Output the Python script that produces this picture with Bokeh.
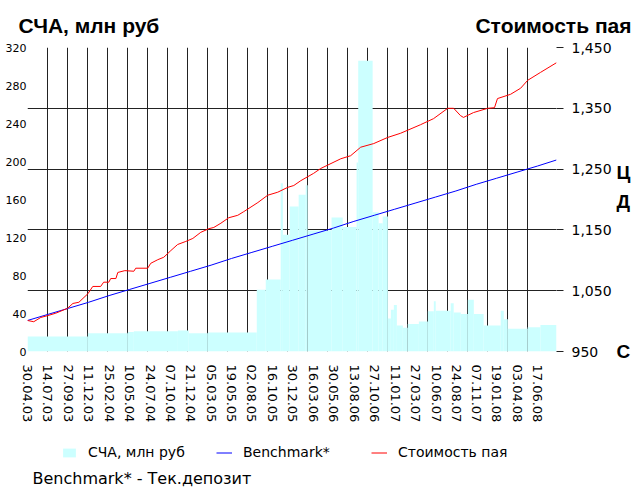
from datetime import date
from bokeh.plotting import figure
from bokeh.layouts import column, row
from bokeh.models import (Range1d, FixedTicker, NumeralTickFormatter, Label, LinearAxis,
                          Legend, LegendItem, ColumnDataSource)
from bokeh.embed import file_html
from bokeh.resources import INLINE

# ---------------- data ----------------
tick_labels = ["30.04.03", "14.07.03", "27.09.03", "11.12.03", "25.02.04", "10.05.04",
               "24.07.04", "07.10.04", "21.12.04", "05.03.05", "19.05.05", "02.08.05",
               "16.10.05", "30.12.05", "16.03.06", "30.05.06", "13.08.06", "27.10.06",
               "11.01.07", "27.03.07", "10.06.07", "24.08.07", "07.11.07", "19.01.08",
               "03.04.08", "17.06.08"]

# СЧА, млн руб (left axis): columns, start day (days since 30.04.03) and value
sca_start_day = [0, 222, 369, 391, 553, 593, 663, 843, 876, 931, 939, 964, 997, 1023,
                 1030, 1118, 1159, 1210, 1216, 1269, 1291, 1306, 1325, 1336, 1347, 1358,
                 1380, 1398, 1439, 1472, 1494, 1501, 1556, 1567, 1593, 1619, 1641, 1677,
                 1740, 1751, 1766, 1839, 1886]
sca_end_day = 1945
sca_mln = [15.8, 19.3, 20.4, 21.4, 22.0, 19.3, 20.0, 65.0, 75.8, 177.0, 123.0, 152.6,
           165.0, 175.0, 127.4, 141.0, 131.0, 199.0, 306.0, 146.6, 135.0, 142.0, 34.7,
           44.0, 49.0, 27.4, 25.0, 29.0, 31.6, 42.4, 53.0, 43.0, 50.8, 41.0, 39.6, 54.4,
           39.6, 27.4, 43.0, 34.0, 23.9, 25.6, 28.0]

# Benchmark* (right axis)
bench_day = [0, 75, 150, 225, 300, 375, 450, 525, 600, 675, 750, 825, 900, 975, 1050,
             1125, 1200, 1275, 1350, 1425, 1500, 1575, 1650, 1725, 1800, 1875, 1945]
bench_value = [1001, 1011, 1021, 1031, 1042, 1052, 1062, 1072, 1082, 1092, 1103, 1113,
               1123, 1133, 1143, 1153, 1164, 1174, 1184, 1194, 1204, 1214, 1225, 1235,
               1245, 1255, 1265]

# Стоимость пая (right axis)
nav_day = [0, 23, 49, 74, 104, 147, 167, 189, 222, 240, 269, 280, 299, 306, 325, 332,
           358, 391, 398, 442, 453, 479, 501, 527, 552, 582, 608, 637, 667, 685, 711,
           740, 773, 795, 847, 883, 920, 957, 979, 1005, 1052, 1078, 1152, 1188, 1225,
           1273, 1324, 1372, 1445, 1493, 1545, 1567, 1592, 1603, 1640, 1692, 1717, 1728,
           1776, 1813, 1839, 1886, 1945]
nav_value = [1001, 999, 1006, 1009, 1013, 1021, 1029, 1031, 1045, 1057, 1057, 1064, 1064,
             1070, 1070, 1080, 1083, 1082, 1087, 1087, 1095, 1101, 1105, 1116, 1126, 1131,
             1136, 1146, 1152, 1154, 1161, 1170, 1174, 1180, 1195, 1207, 1212, 1220, 1223,
             1231, 1243, 1251, 1267, 1272, 1286, 1292, 1302, 1309, 1323, 1333, 1350, 1350,
             1338, 1335, 1343, 1350, 1351, 1366, 1373, 1383, 1396, 1409, 1425]

left_ticks = [0, 40, 80, 120, 160, 200, 240, 280, 320]
right_ticks = [950, 1050, 1150, 1250, 1350, 1450]

title_left = "СЧА, млн руб"
title_right = "Стоимость пая"
series_names = ["СЧА, млн руб", "Benchmark*", "Стоимость пая"]
note_text = "Benchmark* - Тек.депозит"
edge_letters = ["Ц", "Д", "С"]
edge_letter_pos = [1244, 1197, 950]      # right-axis heights of the cut-off side texts

# ---------------- layout ----------------
PAGE_W, PAGE_H = 639, 493
HEAD_H = 39                     # header strip with the two titles
MAIN_H = 398                    # main chart
FOOT_H = PAGE_H - HEAD_H - MAIN_H
FL, FR, FT, FB = 27, 83, 8, 86  # frame 529 x 304


def blank(w, h, xr, yr):
    f = figure(width=w, height=h, output_backend="svg", toolbar_location=None,
               x_range=xr, y_range=yr, x_axis_location=None, y_axis_location=None,
               min_border=0, margin=(0, 0, 0, 0))
    f.outline_line_color = None
    f.xgrid.visible = False
    f.ygrid.visible = False
    f.background_fill_color = "white"
    f.border_fill_color = "white"
    return f


start = date(2003, 4, 30)


def to_day(s):
    d, m, y = s.split(".")
    return (date(2000 + int(y), int(m), int(d)) - start).days


tick_days = [to_day(s) for s in tick_labels]
grid_days = [i * 73.5 for i in range(26)]

# ---------------- header (page pixel coordinates) ----------------
head = blank(PAGE_W, HEAD_H, Range1d(0, PAGE_W), Range1d(HEAD_H, 0))
head.add_layout(Label(x=18, y=25, text=title_left, text_align="left",
                      text_baseline="alphabetic", text_font="Liberation Sans",
                      text_font_style="bold", text_font_size="21px", text_color="black"))
head.add_layout(Label(x=631, y=25, text=title_right, text_align="right",
                      text_baseline="alphabetic", text_font="Liberation Sans",
                      text_font_style="bold", text_font_size="21px", text_color="black"))

# ---------------- main chart ----------------
p = figure(width=PAGE_W, height=MAIN_H, output_backend="svg", toolbar_location=None,
           x_range=Range1d(0, sca_end_day), y_range=Range1d(950, 1450),
           y_axis_location="right", margin=(0, 0, 0, 0),
           min_border_left=FL, min_border_right=FR, min_border_top=FT,
           min_border_bottom=FB)
p.outline_line_color = None
p.background_fill_color = "white"
p.border_fill_color = "white"
p.extra_y_ranges = {"sca": Range1d(0, 320)}

p.xgrid.ticker = FixedTicker(ticks=grid_days)
p.ygrid.ticker = FixedTicker(ticks=right_ticks)
for g in (p.xgrid, p.ygrid):
    g.grid_line_color = "#222222"
    g.grid_line_width = 1

xa = p.xaxis[0]
xa.ticker = FixedTicker(ticks=tick_days)
xa.major_label_overrides = {d: s for d, s in zip(tick_days, tick_labels)}
xa.major_label_orientation = "vertical"
xa.axis_line_color = None
xa.major_tick_line_color = None
xa.minor_tick_line_color = None
xa.major_label_standoff = 7
xa.major_label_text_font = "DejaVu Sans"
xa.major_label_text_font_size = "13px"
xa.major_label_text_color = "black"

ya = p.yaxis[0]
ya.ticker = FixedTicker(ticks=right_ticks)
ya.formatter = NumeralTickFormatter(format="0,0")
ya.axis_line_color = None
ya.major_tick_out = 7
ya.major_tick_in = 0
ya.major_tick_line_color = "#222222"
ya.minor_tick_line_color = None
ya.major_label_standoff = 8
ya.major_label_text_font = "DejaVu Sans"
ya.major_label_text_font_size = "14px"
ya.major_label_text_color = "black"

# second right axis: the cut-off bold texts at the right edge
ea = LinearAxis(ticker=FixedTicker(ticks=edge_letter_pos))
ea.major_label_overrides = {v: t for v, t in zip(edge_letter_pos, edge_letters)}
ea.axis_line_color = None
ea.major_tick_line_color = None
ea.minor_tick_line_color = None
ea.major_tick_out = 0
ea.major_tick_in = 0
ea.major_label_standoff = 2
ea.major_label_text_font = "Liberation Sans"
ea.major_label_text_font_style = "bold"
ea.major_label_text_font_size = "19px"
ea.major_label_text_color = "black"
p.add_layout(ea, "right")

la = LinearAxis(y_range_name="sca", ticker=FixedTicker(ticks=left_ticks))
la.axis_line_color = None
la.major_tick_line_color = None
la.minor_tick_line_color = None
la.major_tick_out = 0
la.major_tick_in = 0
la.major_label_standoff = 1
la.major_label_text_font = "DejaVu Sans"
la.major_label_text_font_size = "11px"
la.major_label_text_color = "black"
p.add_layout(la, "left")

sca_right = sca_start_day[1:] + [sca_end_day]
src = ColumnDataSource(dict(left=sca_start_day, right=sca_right, top=sca_mln,
                            bottom=[0] * len(sca_mln)))
bar_style = dict(fill_color="#CCFFFF", line_color=None)
bench_style = dict(line_color="#0000FF", line_width=1)
nav_style = dict(line_color="#FF0000", line_width=1)
p.quad(left="left", right="right", top="top", bottom="bottom", source=src,
       y_range_name="sca", **bar_style)
p.line(bench_day, bench_value, **bench_style)
p.line(nav_day, nav_value, **nav_style)

# ---------------- footer: legend + note (page pixel coordinates) ----------------
top_f = HEAD_H + MAIN_H
foot = blank(PAGE_W, FOOT_H, Range1d(0, PAGE_W), Range1d(PAGE_H, top_f))
nan = float("nan")
lb = foot.quad(left=[nan], right=[nan], top=[nan], bottom=[nan], **bar_style)
lbe = foot.line([nan], [nan], **bench_style)
lnv = foot.line([nan], [nan], **nav_style)
legend = Legend(items=[LegendItem(label=series_names[0], renderers=[lb]),
                       LegendItem(label=series_names[1], renderers=[lbe]),
                       LegendItem(label=series_names[2], renderers=[lnv])],
                orientation="horizontal", location=(61, PAGE_H - 460),
                border_line_color=None, background_fill_alpha=0,
                padding=0, margin=0, spacing=8,
                glyph_width=16, glyph_height=11, label_standoff=11,
                label_width=120, label_height=16,
                label_text_font="DejaVu Sans", label_text_font_size="14px",
                label_text_color="black")
foot.add_layout(legend, "center")
foot.add_layout(Label(x=32, y=478, text=note_text, text_align="left",
                      text_baseline="middle", text_font="DejaVu Sans",
                      text_font_size="16px", text_color="black"))

layout = column(head, row(p, spacing=0), foot, spacing=0)
open("out.html", "w").write(file_html(layout, INLINE))
